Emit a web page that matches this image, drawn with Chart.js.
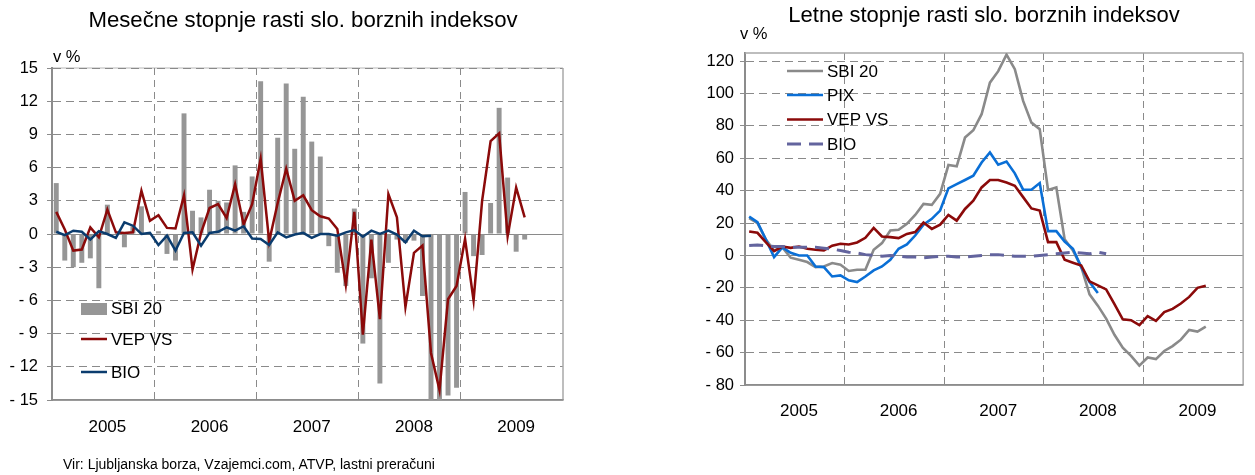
<!DOCTYPE html>
<html>
<head>
<meta charset="utf-8">
<script src="https://cdn.jsdelivr.net/npm/chart.js@4.4.0/dist/chart.umd.min.js"></script>
<style>
    body { margin: 0; background: #fff; font-family: "Liberation Sans", Arial, sans-serif; }
    #page { position: relative; width: 1255px; height: 475px; overflow: hidden; }
    .box { position: absolute; top: 0; height: 475px; }
    .txt { position: absolute; white-space: nowrap; color: #000; line-height: 1; }
    .center { transform: translateX(-50%); }
</style>
</head>
<body>
<div id="page">
    <div class="box" style="left:0;width:620px"><canvas id="monthChart" width="620" height="475"></canvas></div>
    <div class="box" style="left:640px;width:615px"><canvas id="yearChart" width="615" height="475"></canvas></div>

    <div class="txt center" style="left:303px;top:9px;font-size:22.2px">Mesečne stopnje rasti slo. borznih indeksov</div>
    <div class="txt" style="left:53px;top:48px;font-size:16.5px">v %</div>
    <div class="txt center" style="left:984px;top:4px;font-size:22px">Letne stopnje rasti slo. borznih indeksov</div>
    <div class="txt" style="left:740px;top:25px;font-size:16.5px">v %</div>
    <div class="txt" style="left:63px;top:457px;font-size:14px">Vir: Ljubljanska borza, Vzajemci.com, ATVP, lastni preračuni</div>
</div>

<script>
const YEARS = ['2005', '2006', '2007', '2008', '2009'];
const MONTHS = ['01', '02', '03', '04', '05', '06', '07', '08', '09', '10', '11', '12'];
const MONTH_LABELS = YEARS.flatMap((y) => MONTHS.map((m) => y + '-' + m));

// mesecne stopnje (levo)
const SBI_MONTHLY = [
    4.6, -2.4, -3.0, -2.6, -2.2, -4.9, 2.65, 0, -1.2, 0.7, 2.5, 0,
    0.25, -1.8, -2.4, 10.9, 2.1, 1.5, 4.0, 3.0, 2.85, 6.2, 2.0, 5.2,
    13.8, -2.5, 8.7, 13.6, 7.7, 12.4, 8.35, 7.0, -1.1, -3.5, -4.7, 2.3,
    -9.9, -4.0, -13.5, -2.6, -0.5, -0.8, -0.6, -5.6, -15.2, -15.2, -14.6, -13.9,
    3.8, -2.0, -1.9, 2.8, 11.4, 5.1, -1.6, -0.5
];
const VEP_MONTHLY = [
    2.0, 0.4, -1.5, -1.4, 0.6, -0.3, 2.2, 0.15, 0.1, 0.15, 3.9, 1.2,
    1.7, 0.55, 0.5, 3.5, -3.2, 0.1, 2.35, 2.7, 1.45, 4.5, 0.85, 2.7,
    6.8, -0.65, 2.8, 5.9, 3.0, 3.5, 2.15, 1.6, 1.4, 0.45, -4.6, 2.0,
    -9.1, -0.5, -7.7, 3.6, 1.5, -6.6, -1.7, -1.05, -10.75, -14.1, -5.9, -4.7,
    -0.45, -6.0, 3.0, 8.4, 9.1, -0.2, 4.2, 1.5
];
const BIO_MONTHLY = [
    0.2, -0.1, 0.3, 0.2, -0.5, 0.25, 0, -0.35, 1.05, 0.75, 0, 0.1,
    -1.0, -0.15, -1.5, 0.1, 0.15, -1.05, 0.1, 0.2, 0.6, 0.3, 0.7, -0.4,
    -0.45, -1.0, 0.15, -0.3, -0.05, 0.1, -0.35, 0, 0, -0.15, 0.15, 0.35,
    -0.25, 0.3, 0, 0.3, -0.05, -0.75, 0.3, -0.2, -0.15
];

// letne stopnje (desno)
const SBI_YEARLY = [
    23, 20, 10, 3, 5, -1.4, -2.7, -4.1, -7.2, -6.8, -4.7, -5.7,
    -9.6, -8.8, -8.8, 3.5, 7.6, 15.4, 15.8, 19.5, 25, 31.8, 31.2, 38,
    55.8, 55, 72.8, 77.3, 87.2, 106.7, 113.8, 124, 115, 95.4, 82, 78,
    40.4, 42, 10, 3, -7, -24, -31, -39, -49, -57, -62, -68,
    -63, -64, -59, -56, -52, -46, -47, -44
];
const PIX_YEARLY = [
    24, 20.5, 10, -1, 5, 1.6, 0, 0, -6.8, -7.2, -13, -12.3,
    -15.4, -16.4, -13, -9.2, -6.8, -2.7, 4.1, 6.8, 12.3, 19, 22.6, 27.7,
    41.4, 44, 46.6, 49.2, 57.4, 63.6, 56, 58, 50.7, 40.6, 40.6, 44.7,
    15, 15, 8.6, 4.1, -7.2, -16.4, -23.2
];
const VEP_YEARLY = [
    14.8, 14, 8.2, 2.7, 5.5, 4.7, 5.5, 4.1, 3.5, 3.1, 6, 7.2,
    6.8, 8, 10.9, 17, 11.7, 11.3, 10.7, 13.3, 14.4, 20.3, 16.4, 19,
    25, 21.5, 28.7, 33.8, 42, 46.6, 46.6, 45, 43, 36, 29, 27.7,
    8.2, 8.2, -2.7, -4.5, -6.2, -16, -18.5, -21, -30, -39.4, -40, -43,
    -37.5, -40.4, -35, -33, -29.7, -25.6, -20, -18.7
];
const BIO_YEARLY = [
    6.2, 6.5, 6, 5.5, 5.5, 5, 5, 5, 5, 4.5, 4, 3,
    2, 1.5, 0.5, 0, -0.5, 0, -0.5, -1, -1, -1.5, -1, -0.5,
    -0.5, -1, -1, -0.5, 0, 0.5, 0.5, 0, -0.5, -0.5, -0.5, 0,
    0.5, 1, 1.5, 2, 1.5, 1, 2, 1
];

const FONT_FAMILY = "'Liberation Sans', Arial, sans-serif";
const GRID = '#8a8a8a';
const AXIS = '#8c8c8c';
const FRAME = '#a8a8a8';
const FRAME_LIGHT = '#cfcfcf';

Chart.defaults.font.family = FONT_FAMILY;
Chart.defaults.color = '#000';

function fmtTick(v) {
    return v < 0 ? '- ' + Math.abs(v) : String(v);
}

function yearLabel(value, index) {
    return index % 12 === 6 ? YEARS[Math.floor(index / 12)] : '';
}

// okvir okrog risalne povrsine
const framePlugin = {
    id: 'frame',
    beforeDraw(chart, args, opts) {
        // svetla crta pod zgornjo crtkano mrezo
        if (opts.top) {
            return;
        }
        const { ctx, chartArea: a } = chart;
        ctx.save();
        ctx.strokeStyle = FRAME_LIGHT;
        ctx.lineWidth = 1.5;
        ctx.beginPath();
        ctx.moveTo(a.left, a.top);
        ctx.lineTo(a.right, a.top);
        ctx.stroke();
        ctx.restore();
    },
    beforeDatasetsDraw(chart, args, opts) {
        const { ctx, chartArea: a } = chart;
        ctx.save();
        ctx.strokeStyle = FRAME;
        ctx.lineWidth = 1.5;
        ctx.beginPath();
        ctx.moveTo(a.right, a.bottom);
        ctx.lineTo(a.right, a.top);
        if (opts.top) {
            ctx.moveTo(a.left, a.top);
            ctx.lineTo(a.right, a.top);
        }
        ctx.stroke();
        ctx.strokeStyle = AXIS;
        ctx.beginPath();
        ctx.moveTo(a.left, a.bottom);
        ctx.lineTo(a.right, a.bottom);
        ctx.stroke();
        ctx.restore();
    }
};

// legenda znotraj grafa
const insideLegend = {
    id: 'insideLegend',
    afterDatasetsDraw(chart, args, opts) {
        const { ctx } = chart;
        ctx.save();
        ctx.font = opts.fontSize + 'px ' + FONT_FAMILY;
        ctx.textBaseline = 'middle';
        chart.data.datasets.forEach((ds, i) => {
            const y = opts.rows[i];
            if (ds.type === 'bar') {
                ctx.fillStyle = ds.backgroundColor;
                ctx.fillRect(opts.x, y - 6, opts.width, 12);
            } else {
                ctx.strokeStyle = ds.borderColor;
                ctx.lineWidth = ds.borderWidth;
                ctx.setLineDash(ds.borderDash || []);
                ctx.beginPath();
                ctx.moveTo(opts.x, y - 1);
                ctx.lineTo(opts.x + opts.width, y - 1);
                ctx.stroke();
                ctx.setLineDash([]);
            }
            ctx.fillStyle = '#000';
            ctx.fillText(ds.label, opts.x + opts.width + 4, y);
        });
        ctx.restore();
    }
};

function xAxis(height, padding) {
    return {
        type: 'category',
        offset: true,
        grid: {
            offset: true,
            drawTicks: false,
            color: (c) => (c.index > 0 && c.index % 12 === 0) ? GRID : 'rgba(0,0,0,0)'
        },
        border: {
            display: true,
            color: AXIS,
            width: 1.5,
            dash: (c) => c.index !== undefined ? [7, 5] : []
        },
        ticks: {
            autoSkip: false,
            maxRotation: 0,
            padding: padding,
            font: { size: 17 },
            callback: yearLabel
        },
        afterFit: (s) => { s.height = height; }
    };
}

function yAxis(min, max, step, width, padding) {
    return {
        min: min,
        max: max,
        ticks: {
            stepSize: step,
            includeBounds: false,
            padding: padding,
            font: { size: 16.5 },
            callback: fmtTick
        },
        grid: {
            color: (c) => (c.tick && c.tick.value === min) ? 'rgba(0,0,0,0)' : GRID,
            tickColor: AXIS,
            tickLength: 5,
            tickBorderDash: []
        },
        border: {
            display: true,
            color: AXIS,
            width: 2,
            dash: (c) => (c.tick && c.tick.value !== 0) ? [8, 5] : []
        },
        afterFit: (s) => { s.width = width; }
    };
}

new Chart(document.getElementById('monthChart'), {
    type: 'bar',
    data: {
        labels: MONTH_LABELS,
        datasets: [
            {
                type: 'bar',
                label: 'SBI 20',
                data: SBI_MONTHLY,
                backgroundColor: '#969696',
                barPercentage: 0.58,
                categoryPercentage: 1,
                order: 3
            },
            {
                type: 'line',
                label: 'VEP VS',
                data: VEP_MONTHLY,
                borderColor: '#8b0a0a',
                borderWidth: 2.5,
                pointRadius: 0,
                tension: 0,
                order: 2
            },
            {
                type: 'line',
                label: 'BIO',
                data: BIO_MONTHLY,
                borderColor: '#0b3c6e',
                borderWidth: 2.5,
                pointRadius: 0,
                tension: 0,
                order: 1
            }
        ]
    },
    options: {
        responsive: false,
        animation: false,
        layout: { padding: { left: 0, top: 68, right: 57, bottom: 0 } },
        scales: {
            x: xAxis(75, 17),
            y: yAxis(-15, 15, 3, 52, 9)
        },
        plugins: {
            legend: { display: false },
            tooltip: { enabled: false },
            frame: { top: false },
            insideLegend: { x: 81, width: 26, rows: [309, 340, 373], fontSize: 17 }
        }
    },
    plugins: [framePlugin, insideLegend]
});

new Chart(document.getElementById('yearChart'), {
    type: 'line',
    data: {
        labels: MONTH_LABELS,
        datasets: [
            { label: 'SBI 20', data: SBI_YEARLY, borderColor: '#8a8a8a', order: 4 },
            { label: 'PIX', data: PIX_YEARLY, borderColor: '#0a6fd6', order: 3 },
            { label: 'VEP VS', data: VEP_YEARLY, borderColor: '#8b0a0a', order: 2 },
            { label: 'BIO', data: BIO_YEARLY, borderColor: '#63649e', borderDash: [14, 8], borderWidth: 3, order: 1 }
        ].map((ds) => Object.assign({ borderWidth: 2.6, pointRadius: 0, tension: 0 }, ds))
    },
    options: {
        responsive: false,
        animation: false,
        layout: { padding: { left: 0, top: 53, right: 2, bottom: 0 } },
        scales: {
            x: xAxis(90, 16),
            y: yAxis(-80, 125, 20, 105, 6)
        },
        plugins: {
            legend: { display: false },
            tooltip: { enabled: false },
            frame: { top: true },
            insideLegend: { x: 147, width: 36, rows: [72, 96, 120.5, 145], fontSize: 17 }
        }
    },
    plugins: [framePlugin, insideLegend]
});
</script>
</body>
</html>
